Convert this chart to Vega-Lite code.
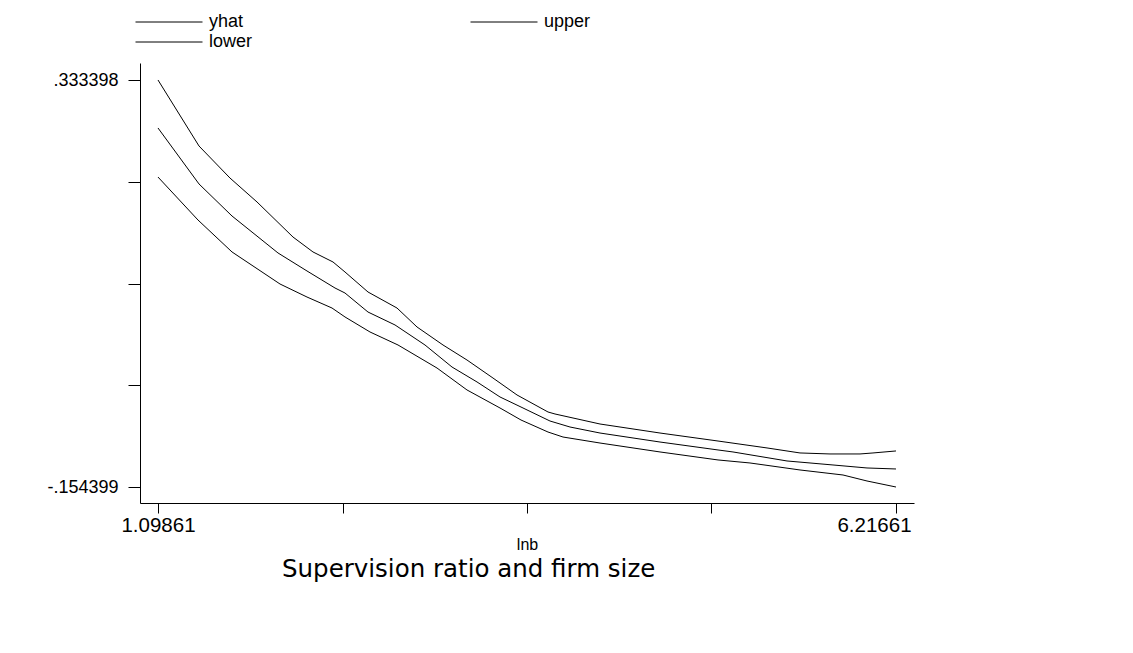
{
  "$schema": "https://vega.github.io/schema/vega-lite/v6.json",
  "width": 774,
  "height": 440,
  "autosize": {"type": "none"},
  "padding": {"left": 140, "top": 63, "right": 219, "bottom": 150},
  "background": "white",
  "title": {
    "text": "Supervision ratio and firm size",
    "orient": "bottom",
    "anchor": "start",
    "frame": "group",
    "dx": 142,
    "offset": 5,
    "fontSize": 24.5,
    "font": "DejaVu Sans",
    "fontWeight": "normal",
    "color": "black"
  },
  "data": {
    "values": [
      {"series": "upper", "x": 1.0986, "y": 0.3334},
      {"series": "upper", "x": 1.3829, "y": 0.2543},
      {"series": "upper", "x": 1.5979, "y": 0.2159},
      {"series": "upper", "x": 1.7852, "y": 0.1872},
      {"series": "upper", "x": 2.0348, "y": 0.1452},
      {"series": "upper", "x": 2.1735, "y": 0.1273},
      {"series": "upper", "x": 2.3122, "y": 0.1153},
      {"series": "upper", "x": 2.3954, "y": 0.1033},
      {"series": "upper", "x": 2.5550, "y": 0.0793},
      {"series": "upper", "x": 2.7561, "y": 0.0601},
      {"series": "upper", "x": 2.8948, "y": 0.0374},
      {"series": "upper", "x": 3.0751, "y": 0.0158},
      {"series": "upper", "x": 3.2415, "y": -0.0022},
      {"series": "upper", "x": 3.4218, "y": -0.0238},
      {"series": "upper", "x": 3.5883, "y": -0.0441},
      {"series": "upper", "x": 3.8033, "y": -0.0645},
      {"series": "upper", "x": 3.8518, "y": -0.0669},
      {"series": "upper", "x": 4.1639, "y": -0.0789},
      {"series": "upper", "x": 4.5800, "y": -0.0897},
      {"series": "upper", "x": 4.9822, "y": -0.0993},
      {"series": "upper", "x": 5.3220, "y": -0.1076},
      {"series": "upper", "x": 5.5509, "y": -0.1136},
      {"series": "upper", "x": 5.7589, "y": -0.1148},
      {"series": "upper", "x": 5.9670, "y": -0.1148},
      {"series": "upper", "x": 6.0571, "y": -0.1136},
      {"series": "upper", "x": 6.2166, "y": -0.1112},
      {"series": "yhat", "x": 1.0986, "y": 0.2759},
      {"series": "yhat", "x": 1.3829, "y": 0.2088},
      {"series": "yhat", "x": 1.6118, "y": 0.1704},
      {"series": "yhat", "x": 1.9308, "y": 0.1261},
      {"series": "yhat", "x": 2.1319, "y": 0.1045},
      {"series": "yhat", "x": 2.3261, "y": 0.0841},
      {"series": "yhat", "x": 2.3954, "y": 0.0781},
      {"series": "yhat", "x": 2.5550, "y": 0.0553},
      {"series": "yhat", "x": 2.7422, "y": 0.0398},
      {"series": "yhat", "x": 2.9502, "y": 0.0158},
      {"series": "yhat", "x": 3.1375, "y": -0.0106},
      {"series": "yhat", "x": 3.3109, "y": -0.0285},
      {"series": "yhat", "x": 3.4704, "y": -0.0465},
      {"series": "yhat", "x": 3.6299, "y": -0.0597},
      {"series": "yhat", "x": 3.8171, "y": -0.0753},
      {"series": "yhat", "x": 3.9558, "y": -0.0825},
      {"series": "yhat", "x": 4.1639, "y": -0.0897},
      {"series": "yhat", "x": 4.5800, "y": -0.1005},
      {"series": "yhat", "x": 4.9822, "y": -0.1100},
      {"series": "yhat", "x": 5.0862, "y": -0.1124},
      {"series": "yhat", "x": 5.4607, "y": -0.1232},
      {"series": "yhat", "x": 5.7797, "y": -0.1280},
      {"series": "yhat", "x": 6.0155, "y": -0.1316},
      {"series": "yhat", "x": 6.2166, "y": -0.1328},
      {"series": "lower", "x": 1.0986, "y": 0.2171},
      {"series": "lower", "x": 1.3760, "y": 0.1656},
      {"series": "lower", "x": 1.6118, "y": 0.1273},
      {"series": "lower", "x": 1.9447, "y": 0.0889},
      {"series": "lower", "x": 2.1319, "y": 0.0733},
      {"series": "lower", "x": 2.3053, "y": 0.0601},
      {"series": "lower", "x": 2.3954, "y": 0.0494},
      {"series": "lower", "x": 2.5688, "y": 0.0314},
      {"series": "lower", "x": 2.7630, "y": 0.0158},
      {"series": "lower", "x": 3.0335, "y": -0.0118},
      {"series": "lower", "x": 3.2415, "y": -0.0381},
      {"series": "lower", "x": 3.4704, "y": -0.0597},
      {"series": "lower", "x": 3.6160, "y": -0.0741},
      {"series": "lower", "x": 3.8033, "y": -0.0885},
      {"series": "lower", "x": 3.9073, "y": -0.0945},
      {"series": "lower", "x": 4.1639, "y": -0.1017},
      {"series": "lower", "x": 4.5800, "y": -0.1124},
      {"series": "lower", "x": 4.9822, "y": -0.1220},
      {"series": "lower", "x": 5.2041, "y": -0.1256},
      {"series": "lower", "x": 5.5509, "y": -0.1340},
      {"series": "lower", "x": 5.8491, "y": -0.1400},
      {"series": "lower", "x": 6.0155, "y": -0.1472},
      {"series": "lower", "x": 6.2166, "y": -0.1544}
    ]
  },
  "mark": {"type": "line", "strokeWidth": 1, "clip": false},
  "encoding": {
    "x": {
      "field": "x",
      "type": "quantitative",
      "scale": {"domain": [0.97378, 6.34144], "nice": false, "zero": false},
      "axis": {
        "title": "lnb",
        "values": [1.09861, 2.37811, 3.65761, 4.93711, 6.21661],
        "labelExpr": "datum.value < 1.2 ? '1.09861' : (datum.value > 6.1 ? '6.21661' : '')",
        "labelOffset": {"condition": {"test": "datum.value > 6.1", "value": -22}, "value": 0},
        "tickSize": 10,
        "labelPadding": 2,
        "labelFontSize": 20.5,
        "titleFontSize": 16,
        "titlePadding": 1
      }
    },
    "y": {
      "field": "y",
      "type": "quantitative",
      "scale": {"domain": [-0.173575, 0.353773], "nice": false, "zero": false},
      "axis": {
        "title": null,
        "values": [-0.154399, -0.03244975, 0.0894995, 0.21144875, 0.333398],
        "labelExpr": "datum.value > 0.3 ? '.333398' : (datum.value < -0.15 ? '-.154399' : '')",
        "tickSize": 12,
        "labelPadding": 10,
        "labelFontSize": 18
      }
    },
    "color": {
      "field": "series",
      "type": "nominal",
      "scale": {"domain": ["yhat", "upper", "lower"], "range": ["black", "black", "black"]},
      "legend": {
        "title": null,
        "orient": "none",
        "direction": "horizontal",
        "legendX": -5,
        "legendY": -50,
        "columns": 2,
        "columnPadding": 217,
        "rowPadding": 2,
        "clipHeight": 18,
        "padding": 0,
        "symbolType": "stroke",
        "symbolSize": 4489,
        "symbolStrokeWidth": 1,
        "labelFontSize": 18,
        "labelOffset": 6,
        "labelFont": "Liberation Sans",
        "labelColor": "black"
      }
    }
  },
  "config": {
    "view": {"stroke": null},
    "font": "Liberation Sans",
    "axis": {
      "grid": false,
      "domainColor": "black",
      "domainWidth": 1,
      "tickColor": "black",
      "tickWidth": 1,
      "labelColor": "black",
      "titleColor": "black",
      "labelFont": "Liberation Sans",
      "titleFont": "Liberation Sans",
      "titleFontWeight": "normal"
    }
  }
}
